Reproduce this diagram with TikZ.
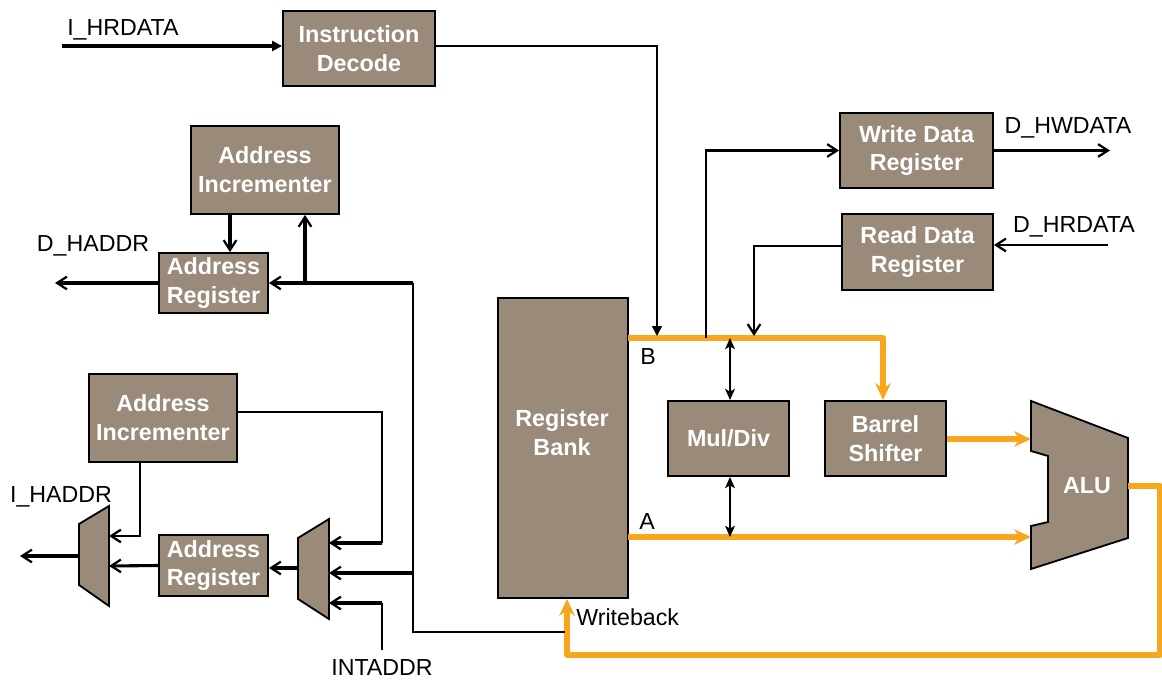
\documentclass[tikz,border=0pt]{standalone}
\usepackage{fontspec}
\setmainfont{Liberation Sans}
\usetikzlibrary{arrows.meta}
\usetikzlibrary{calc}
\definecolor{boxfill}{RGB}{154,138,122}
\definecolor{busorange}{RGB}{247,166,30}
\tikzset{
  btxt/.style={inner sep=0pt,text=white,align=center,font=\fontsize{16.6}{20.5}\selectfont\bfseries},
  blk/.style={btxt,draw=black,line width=1.3pt,fill=boxfill},
  lbl/.style={inner sep=0pt,font=\fontsize{16.5}{19}\selectfont},
  wire/.style={line width=1.1pt},
  med/.style={line width=1.6pt},
  thk/.style={line width=2.2pt},
  bus/.style={line width=4.3pt,draw=busorange,line join=round},
  barb/.style={-{Straight Barb[length=7pt,width=9pt,line width=1.6pt]}},
  tri/.style={-{Triangle[length=7pt,width=7pt]}},
  obarb/.style={-{Stealth[length=12pt,width=11pt,inset=4pt]}},
  both/.style={{Stealth[length=8pt,width=7pt,inset=2pt]}-{Stealth[length=8pt,width=7pt,inset=2pt]}}
}
\begin{document}
\begin{tikzpicture}[x=0.025cm,y=-0.025cm]
\useasboundingbox (0,0) rectangle (1162,681);
% blocks
\node[blk,minimum width=3.8cm,minimum height=1.875cm] (idec) at (359,48.5) {Instruction\\Decode};
\node[blk,minimum width=3.7cm,minimum height=2.2cm] (aincT) at (265,170) {Address\\Incrementer};
\node[blk,minimum width=2.725cm,minimum height=1.5cm] (aregT) at (213.5,283) {Address\\Register};
\node[blk,minimum width=3.7cm,minimum height=2.2cm] (aincB) at (163,418) {Address\\Incrementer};
\node[blk,minimum width=2.725cm,minimum height=1.525cm] (aregB) at (213.5,565.5) {Address\\Register};
\node[blk,minimum width=3.25cm,minimum height=7.5cm] (rbank) at (563,448) {};
\node[btxt] (rbtxt) at (562,433) {Register\\Bank};
\node[blk,minimum width=3.825cm,minimum height=1.875cm] (wdr) at (916.5,150.5) {Write Data\\Register};
\node[blk,minimum width=3.775cm,minimum height=1.9cm] (rdr) at (917.5,252) {Read Data\\Register};
\node[blk,minimum width=3.025cm,minimum height=1.875cm] (muldiv) at (728.5,438.5) {Mul/Div};
\node[blk,minimum width=3.025cm,minimum height=1.875cm] (barrel) at (885.5,438.5) {Barrel\\Shifter};
% muxes and alu
\draw[fill=boxfill,line width=1.3pt] (79,524) -- (109,506) -- (109,606) -- (79,585) -- cycle;
\draw[fill=boxfill,line width=1.3pt] (298,538) -- (329,519) -- (329,619) -- (298,599) -- cycle;
\draw[fill=boxfill,line width=1.3pt] (1031,401) -- (1128,438) -- (1128,538) -- (1031,569) -- (1031,526)
  -- (1048,522) -- (1048,456) -- (1031,451) -- cycle;
\node[btxt] (alu) at (1087,486) {ALU};
\coordinate (m1in1) at (109,536);
\coordinate (m1in2) at (109,566);
\coordinate (m1out) at (79,556);
\coordinate (m2in1) at (329,543);
\coordinate (m2in2) at (329,573);
\coordinate (m2in3) at (329,603);
\coordinate (m2out) at (298,568);
\coordinate (aluinB) at (1031,439);
\coordinate (aluinA) at (1031,537);
\coordinate (aluout) at (1128,486);
% free ends and junctions
\coordinate (ihr) at (62,46);
\coordinate (decB) at (657,336);
\coordinate (busB) at (628,338);
\coordinate (busBc) at (883,338);
\coordinate (wtap) at (706,338);
\coordinate (rtap) at (754,336);
\coordinate (mtapB) at (730,338);
\coordinate (busA) at (628,537);
\coordinate (mtapA) at (730,537);
\coordinate (dhw) at (1110,150.5);
\coordinate (dhr) at (1108,245);
\coordinate (wbR) at (1160,655);
\coordinate (wbL) at (567,655);
\coordinate (dhaddr) at (55,283);
\coordinate (ajct) at (413,283);
\coordinate (aup) at (305,283);
\coordinate (aloop) at (413,632);
\coordinate (wbtap) at (565,632);
\coordinate (m2feed) at (413,573);
\coordinate (m2c1) at (382,543);
\coordinate (m2c3) at (382,603);
\coordinate (intaddr) at (382,650);
\coordinate (ihaddr) at (20,556);
\coordinate (aT) at ($(aincT.south)+(-35,0)$);
\coordinate (aiBo) at ($(aincB.east)+(0,-6)$);
\coordinate (aiBs) at ($(aincB.south)+(-23,0)$);
\coordinate (rdo) at ($(rdr.west)+(0,-6)$);
% orange buses
\draw[bus,obarb] (busB) -- (busBc) -- (busBc |- barrel.north);
\draw[bus,obarb] (busA) -- (aluinA);
\draw[bus,obarb] (barrel.east |- aluinB) -- (aluinB);
\draw[bus,obarb] (aluout) -| (wbR) -- (wbL) -- (wbL |- rbank.south);
% data side
\draw[thk,tri] (ihr) -- (ihr -| idec.west);
\draw[wire,tri] (idec.east |- ihr) -| (decB);
\draw[med,barb] (wtap) |- (wdr.west);
\draw[med,barb] (wdr.east) -- (dhw);
\draw[med,barb] (dhr) -- (dhr -| rdr.east);
\draw[med,barb] (rdo) -| (rtap);
\draw[wire,both] (mtapB) -- (muldiv.north -| mtapB);
\draw[wire,both] (muldiv.south -| mtapA) -- (mtapA);
% address side
\draw[thk,barb] (aT) -- (aT |- aregT.north);
\draw[thk,barb] (aregT.west) -- (dhaddr);
\draw[thk,barb] (ajct) -- (aregT.east);
\draw[thk,barb] (aup) -- (aup |- aincT.south);
\draw[wire] (ajct) -- (aloop) -- (wbtap);
\draw[thk,barb] (m2feed) -- (m2in2);
\draw[wire] (aiBo) -| (m2c1);
\draw[thk,barb] (m2c1) -- (m2in1);
\draw[wire] (intaddr) -- (m2c3);
\draw[thk,barb] (m2c3) -- (m2in3);
\draw[thk,barb] (m2out) -- (m2out -| aregB.east);
\draw[thk,barb] (aregB.west) -- (m1in2);
\draw[med,barb] (aiBs) |- (m1in1);
\draw[thk,barb] (m1out) -- (ihaddr);
% labels
\node[lbl,anchor=west] (lihr) at (67,30) {I\_HRDATA};
\node[lbl] (ldha) at (93,246) {D\_HADDR};
\node[lbl] (liha) at (61,497) {I\_HADDR};
\node[lbl] (lint) at (382,668) {INTADDR};
\node[lbl] (lhw) at (1068,128) {D\_HWDATA};
\node[lbl] (lhr) at (1074,227) {D\_HRDATA};
\node[lbl] (lb) at (648,357) {B};
\node[lbl] (la) at (647,522) {A};
\node[lbl,anchor=west] (lwb) at (576,617) {Writeback};
\end{tikzpicture}
\end{document}
